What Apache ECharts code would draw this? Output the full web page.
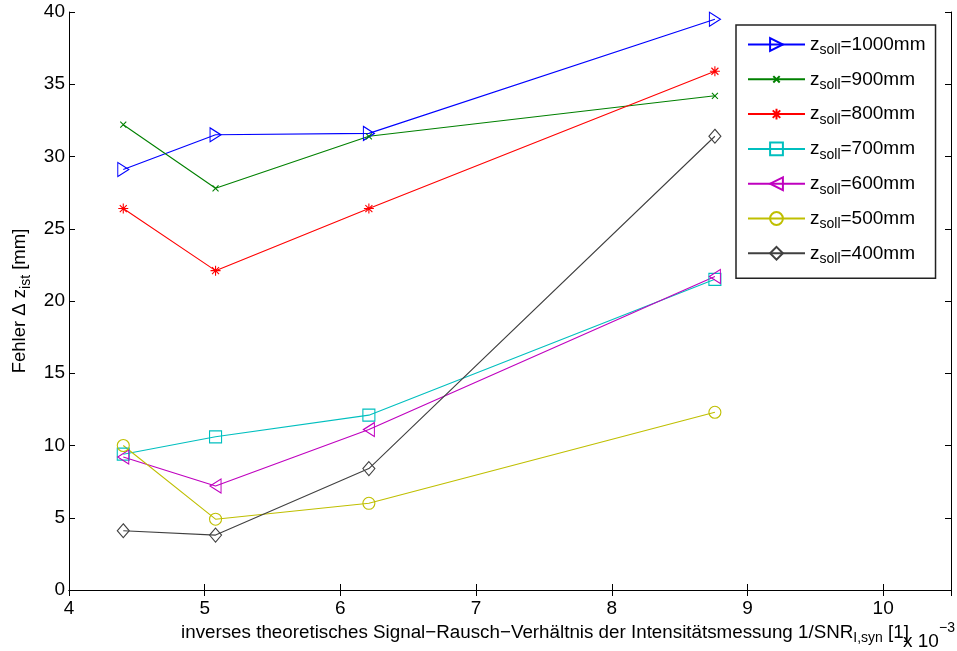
<!DOCTYPE html>
<html>
<head>
<meta charset="utf-8">
<script src="https://cdn.jsdelivr.net/npm/echarts@6/dist/echarts.min.js"></script>
<style>
  html, body { margin: 0; padding: 0; background: #fff; }
  #chart { width: 957px; height: 651px; }
</style>
</head>
<body>
<div id="chart"></div>
<script>
// Inverse SNR values (x 10^-3) at which each distance was measured
const inverseSnr = [4.40, 5.08, 6.21, 8.76];

// Error Δz_ist [mm] per nominal distance z_soll
const err1000 = [29.1, 31.5, 31.6, 39.5];
const err900  = [32.2, 27.8, 31.4, 34.2];
const err800  = [26.4, 22.1, 26.4, 35.9];
const err700  = [9.4, 10.6, 12.1, 21.5];
const err600  = [9.2, 7.2, 11.1, 21.7];
const err500  = [10.0, 4.9, 6.0, 12.3];
const err400  = [4.1, 3.8, 8.4, 31.4];

const distances = ['1000', '900', '800', '700', '600', '500', '400'];
const yTicks = { min: 0, max: 40, step: 5 };
const xTicks = { min: 4, max: 10.5, step: 1 };

const FONT = "'Liberation Sans', Arial, Helvetica, sans-serif";

// Unfilled marker shapes; the leading moves pad the bounding box so the
// cross and star stay small inside the square legend icon as well
const MARKERS = {
  triRight: 'path://M0,0L10,5L0,10Z',
  triLeft: 'path://M10,0L0,5L10,10Z',
  cross: 'path://M-5,-5M15,15M0,0L10,10M0,10L10,0',
  star: 'path://M-1,-1M11,11M5,0L5,10M0,5L10,5M1.5,1.5L8.5,8.5M1.5,8.5L8.5,1.5'
};

const seriesDefs = [
  { name: distances[0], values: err1000, color: '#0000ff', symbol: MARKERS.triRight, size: [11, 14] },
  { name: distances[1], values: err900,  color: '#008000', symbol: MARKERS.cross,    size: 12 },
  { name: distances[2], values: err800,  color: '#ff0000', symbol: MARKERS.star,     size: 12 },
  { name: distances[3], values: err700,  color: '#00bfbf', symbol: 'rect',           size: 12 },
  { name: distances[4], values: err600,  color: '#bf00bf', symbol: MARKERS.triLeft,  size: [11, 14] },
  { name: distances[5], values: err500,  color: '#bfbf00', symbol: 'circle',         size: 12 },
  { name: distances[6], values: err400,  color: '#404040', symbol: 'diamond',        size: [12, 14] }
];

const series = seriesDefs.map(d => ({
  name: d.name,
  type: 'line',
  xAxisIndex: 0,
  yAxisIndex: 0,
  data: inverseSnr.map((x, i) => [x, d.values[i]]),
  symbol: d.symbol,
  symbolSize: d.size,
  showAllSymbol: true,
  lineStyle: { color: d.color, width: 1.1 },
  itemStyle: { color: 'none', borderColor: d.color, borderWidth: 1.1 },
  emphasis: { disabled: true },
  animation: false
}));

const tickCommon = {
  axisLine: { show: true, lineStyle: { color: '#000', width: 1 } },
  axisTick: { show: true, inside: true, length: 6, lineStyle: { color: '#000', width: 1 } },
  splitLine: { show: false }
};

const chart = echarts.init(document.getElementById('chart'), null, { renderer: 'canvas' });

chart.setOption({
  animation: false,
  backgroundColor: '#fff',
  textStyle: { fontFamily: FONT },
  grid: { left: 69, right: 6, top: 12, bottom: 61, containLabel: false },
  xAxis: [
    Object.assign({
      type: 'value', position: 'bottom',
      min: xTicks.min, max: xTicks.max, interval: xTicks.step,
      axisLabel: { color: '#000', fontSize: 19, fontFamily: FONT, margin: 9, showMaxLabel: false },
      name: '{t|inverses theoretisches Signal\u2212Rausch\u2212Verh\u00e4ltnis der Intensit\u00e4tsmessung 1/SNR}{s|I,syn}{t| [1]}',
      nameLocation: 'middle',
      nameGap: 29,
      nameTextStyle: {
        padding: [0, 0, 0, 70],
        rich: {
          t: { fontSize: 18.8, fontFamily: FONT, color: '#000' },
          s: { fontSize: 14, fontFamily: FONT, color: '#000', padding: [12, 0, 0, 0] }
        }
      }
    }, tickCommon),
    Object.assign({
      type: 'value', position: 'top',
      min: xTicks.min, max: xTicks.max, interval: xTicks.step,
      axisLabel: { show: false }
    }, tickCommon)
  ],
  yAxis: [
    Object.assign({
      type: 'value', position: 'left',
      min: yTicks.min, max: yTicks.max, interval: yTicks.step,
      axisLabel: { color: '#000', fontSize: 19, fontFamily: FONT, margin: 4 },
      name: '{t|Fehler \u0394 z}{s|ist}{t| [mm]}',
      nameLocation: 'middle',
      nameGap: 36,
      nameTextStyle: {
        rich: {
          t: { fontSize: 18.5, fontFamily: FONT, color: '#000' },
          s: { fontSize: 14, fontFamily: FONT, color: '#000', padding: [12, 0, 0, 0] }
        }
      }
    }, tickCommon),
    Object.assign({
      type: 'value', position: 'right',
      min: yTicks.min, max: yTicks.max, interval: yTicks.step,
      axisLabel: { show: false }
    }, tickCommon)
  ],
  legend: {
    show: true,
    orient: 'vertical',
    left: 736,
    top: 25,
    padding: [10, 10, 12, 11],
    itemWidth: 57,
    itemHeight: 16,
    itemGap: 12.3,
    backgroundColor: '#fff',
    borderColor: '#222',
    borderWidth: 1.5,
    borderRadius: 0,
    selectedMode: false,
    data: distances,
    formatter: n => '{t|z}{s|soll}{t|=' + n + 'mm}',
    textStyle: {
      fontFamily: FONT,
      color: '#000',
      rich: {
        t: { fontSize: 19, fontFamily: FONT, color: '#000' },
        s: { fontSize: 14, fontFamily: FONT, color: '#000', padding: [12, 0, 0, 0] }
      }
    }
  },
  graphic: [
    {
      type: 'text', left: 903, top: 632, silent: true,
      style: { text: 'x 10', font: '19px ' + FONT, fill: '#000' }
    },
    {
      type: 'text', left: 939, top: 621, silent: true,
      style: { text: '\u22123', font: '14px ' + FONT, fill: '#000' }
    }
  ],
  series: series
});
</script>
</body>
</html>
